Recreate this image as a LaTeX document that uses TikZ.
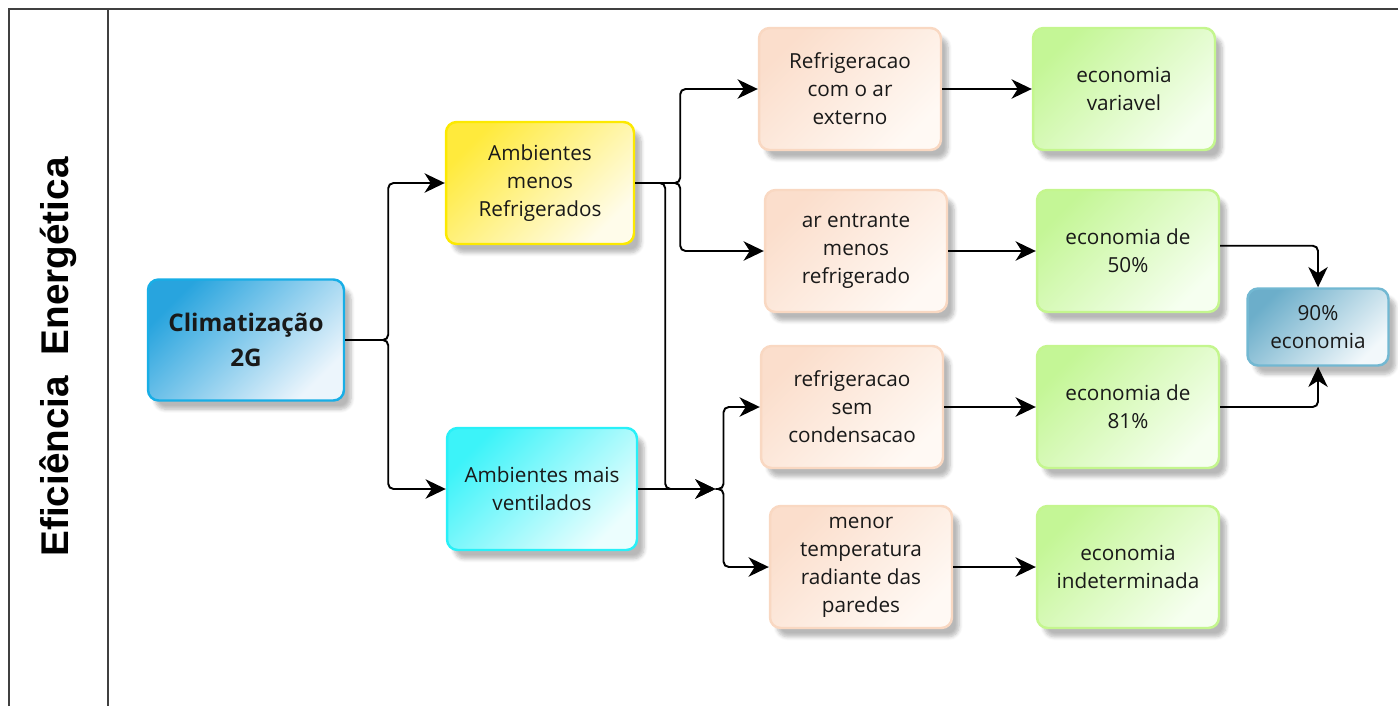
\documentclass[tikz,border=0pt]{standalone}
\usepackage{fontspec}
\setmainfont{Open Sans}
\newfontfamily\titulofont{Liberation Sans}
\usetikzlibrary{arrows.meta,shadows.blur}

\tikzset{
  caixa/.style={draw, rounded corners=6pt, line width=1.4pt, align=center,
    minimum width=3.64cm, minimum height=2.44cm, text=black!90,
    font=\fontsize{11.8}{15.9}\selectfont,
    blur shadow={shadow xshift=4pt, shadow yshift=-5pt, shadow opacity=28, shadow blur steps=6}},
  azul/.style={caixa, draw={rgb,255:red,24;green,174;blue,230},
    top color={rgb,255:red,40;green,164;blue,222}, bottom color={rgb,255:red,236;green,245;blue,252}, shading angle=45},
  amarelo/.style={caixa, draw={rgb,255:red,252;green,233;blue,0},
    top color={rgb,255:red,255;green,234;blue,60}, bottom color={rgb,255:red,255;green,252;blue,234}, shading angle=45},
  ciano/.style={caixa, draw={rgb,255:red,40;green,240;blue,248},
    top color={rgb,255:red,60;green,243;blue,249}, bottom color={rgb,255:red,236;green,254;blue,254}, shading angle=45},
  pessego/.style={caixa, draw={rgb,255:red,249;green,216;blue,194},
    top color={rgb,255:red,251;green,222;blue,204}, bottom color={rgb,255:red,255;green,249;blue,244}, shading angle=45},
  verde/.style={caixa, draw={rgb,255:red,196;green,246;blue,142},
    top color={rgb,255:red,196;green,246;blue,150}, bottom color={rgb,255:red,246;green,255;blue,240}, shading angle=45},
  cinzaazul/.style={caixa, draw={rgb,255:red,114;green,184;blue,210},
    top color={rgb,255:red,108;green,174;blue,202}, bottom color={rgb,255:red,242;green,248;blue,251}, shading angle=45},
  seta/.style={-{Stealth[length=11.5pt, width=11pt, inset=3.5pt]}, line width=1.1pt, rounded corners=3pt},
  moldura/.style={draw=black!75, line width=1.1pt}
}

\begin{document}
\begin{tikzpicture}[x=0.02cm, y=-0.02cm]
  \useasboundingbox (0,0) rectangle (1398,706);

  % moldura
  \draw[moldura] (9,706) -- (9,9) -- (1398,9);
  \draw[moldura] (108,9) -- (108,706);

  % titulo
  \node[rotate=90, font=\titulofont\bfseries\fontsize{22}{26}\selectfont] (titulo) at (58,357) {Eficiência\hspace{12pt}Energética};

  % caixas
  \node[azul, minimum width=3.92cm, minimum height=2.42cm, font=\bfseries\fontsize{13.8}{19.5}\selectfont] (clima) at (246,340) {Climatização\\2G};
  \node[amarelo, minimum width=3.76cm] (menos) at (540,183) {Ambientes\\menos\\Refrigerados};
  \node[ciano, minimum width=3.8cm] (mais) at (542,489) {Ambientes mais\\ventilados};

  \node[pessego] (ref1) at (850,89) {Refrigeracao\\com o ar\\externo};
  \node[pessego] (ref2) at (856,251) {ar entrante\\menos\\refrigerado};
  \node[pessego] (ref3) at (852,407) {refrigeracao\\sem\\condensacao};
  \node[pessego] (ref4) at (861,567) {menor\\temperatura\\radiante das\\paredes};

  \node[verde] (eco1) at (1124,89) {economia\\variavel};
  \node[verde] (eco2) at (1128,251) {economia de\\50\%};
  \node[verde] (eco3) at (1128,407) {economia de\\81\%};
  \node[verde] (eco4) at (1128,567) {economia\\indeterminada};

  \node[cinzaazul, minimum width=2.82cm, minimum height=1.54cm] (total) at (1318,327) {90\%\\economia};

  % juncao
  \coordinate (jun) at ([xshift=44pt]mais.east);

  % ligacoes
  \draw[seta] (clima.east) -- ++(43,0) |- (menos.west);
  \draw[seta] (clima.east) -- ++(43,0) |- (mais.west);
  \draw[seta] (menos.east) -- ++(45,0) |- (ref1.west);
  \draw[seta] (menos.east) -- ++(45,0) |- (ref2.west);
  \draw[seta] (menos.east) -- ++(30,0) |- (jun);
  \draw[seta] (mais.east) -- (jun);
  \draw[seta] (jun) -- ++(8,0) |- (ref3.west);
  \draw[seta] (jun) -- ++(8,0) |- (ref4.west);

  \draw[seta] (ref1) -- (eco1);
  \draw[seta] (ref2) -- (eco2);
  \draw[seta] (ref3) -- (eco3);
  \draw[seta] (ref4) -- (eco4);

  \draw[seta] ([yshift=3pt]eco2.east) -| (total.north);
  \draw[seta] (eco3.east) -| (total.south);
\end{tikzpicture}
\end{document}
